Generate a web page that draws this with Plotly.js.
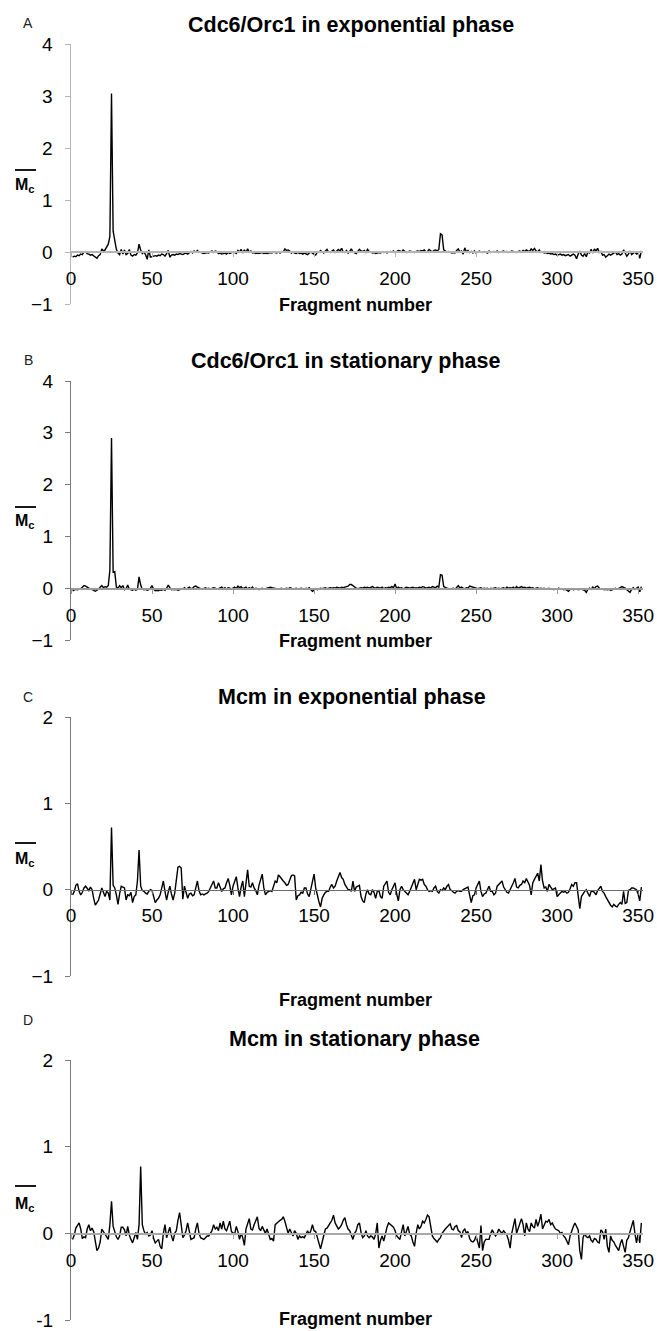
<!DOCTYPE html>
<html>
<head>
<meta charset="utf-8">
<script src="https://cdn.plot.ly/plotly-3.0.1.min.js"></script>
<style>html,body{margin:0;padding:0;background:#fff;}#chart{width:657px;height:1331px;}</style>
</head>
<body>
<div id="chart"></div>
<script>
// ---------- DATA ----------
const panelLetters = ["A", "B", "C", "D"];
const panelTitles = [
  "Cdc6/Orc1 in exponential phase",
  "Cdc6/Orc1 in stationary phase",
  "Mcm in exponential phase",
  "Mcm in stationary phase"
];
const xTitle = "Fragment number";
const yLabel = "M<sub>c</sub>";
const xTickVals = [0, 50, 100, 150, 200, 250, 300, 350];
const yTickValsCdc = [-1, 0, 1, 2, 3, 4];
const yTickTextCdc = ["\u22121", "0", "1", "2", "3", "4"];
const yTickValsMcm = [-1, 0, 1, 2];
const yTickTextMcmC = ["\u22121", "0", "1", "2"];
const yTickTextMcmD = ["-1", "0", "1", "2"];

const cdcExponential = [
-0.1,-0.08,-0.09,-0.06,-0.07,-0.04,-0.05,0.0,0.01,-0.03,
-0.04,-0.06,-0.05,-0.08,-0.1,-0.12,-0.07,-0.05,0.06,0.02,
0.04,0.1,0.15,0.3,3.05,0.4,0.18,0.05,-0.02,-0.05,
0.05,-0.04,0.04,-0.05,-0.03,0.05,-0.06,-0.08,-0.05,-0.06,
-0.02,0.15,0.04,-0.03,0.0,-0.05,-0.14,0.04,-0.1,-0.09,
-0.08,-0.07,-0.08,-0.06,-0.07,-0.04,-0.05,-0.08,-0.03,0.03,
-0.1,-0.06,-0.05,-0.06,-0.04,-0.05,-0.03,-0.04,-0.05,-0.03,
-0.02,-0.04,-0.01,0.01,-0.02,0.02,0.0,0.03,-0.01,0.0,
-0.02,-0.03,-0.02,-0.01,-0.02,0.0,0.02,-0.01,0.02,0.01,
-0.03,-0.02,-0.04,-0.03,-0.02,-0.04,-0.01,-0.03,-0.02,0.0,
-0.01,-0.03,0.03,0.0,0.05,-0.02,0.04,-0.01,0.06,0.0,
0.02,-0.02,-0.01,-0.03,-0.02,-0.03,-0.02,-0.01,-0.03,-0.02,
-0.03,-0.02,-0.01,-0.02,0.0,-0.01,-0.02,0.0,-0.02,0.01,
0.0,0.06,0.03,0.04,0.02,-0.02,0.0,-0.02,-0.03,-0.01,
-0.03,-0.02,-0.04,-0.02,-0.03,-0.05,-0.02,0.0,-0.02,-0.04,
-0.06,0.0,-0.01,0.03,0.0,-0.02,0.02,0.05,0.0,-0.01,
0.02,0.04,-0.01,0.03,0.05,0.02,0.07,0.0,-0.01,0.03,
-0.02,0.01,0.06,0.0,-0.02,-0.03,0.01,0.05,0.02,0.01,
0.03,-0.01,0.05,0.01,0.0,-0.02,-0.01,-0.03,-0.02,-0.01,
-0.02,0.0,-0.01,0.0,-0.02,-0.01,0.01,0.0,0.02,-0.01,
0.01,0.03,0.02,0.0,0.04,0.01,-0.01,0.0,0.02,0.01,
0.0,-0.01,0.01,0.02,0.01,0.03,0.02,0.04,0.0,0.01,
0.05,0.02,0.0,0.03,0.04,0.02,0.05,0.35,0.33,0.04,
0.02,0.0,0.01,-0.01,-0.02,-0.01,-0.02,0.03,0.06,0.0,
0.02,-0.04,0.08,0.0,0.03,-0.01,0.01,-0.02,0.02,-0.02,
0.0,0.02,0.0,-0.01,0.01,0.0,-0.02,0.02,-0.01,0.0,
0.01,0.0,0.02,-0.01,0.0,0.01,0.02,0.0,0.01,-0.01,
0.0,0.02,0.01,0.0,-0.01,0.01,0.02,0.0,0.03,0.01,
0.04,0.02,0.01,0.06,0.03,0.07,0.02,0.0,0.04,-0.01,
0.0,-0.02,-0.01,-0.03,-0.02,-0.04,-0.03,-0.05,-0.04,-0.06,
-0.05,-0.04,-0.06,-0.05,-0.07,-0.06,-0.05,-0.08,-0.06,-0.04,
-0.06,-0.13,-0.04,0.02,-0.06,-0.08,-0.03,-0.09,0.0,-0.02,
0.05,-0.02,0.06,0.02,0.07,-0.01,0.01,-0.06,-0.05,-0.1,
-0.07,-0.04,-0.06,-0.03,-0.02,0.0,-0.05,-0.03,-0.06,-0.04,
0.04,-0.02,-0.08,-0.04,0.02,-0.05,-0.02,0.0,-0.04,-0.02,
-0.12,0.02
];

const cdcStationary = [
-0.05,-0.04,-0.02,-0.03,-0.02,-0.01,0.02,0.05,0.04,0.01,
0.0,-0.01,-0.03,-0.05,-0.06,-0.04,-0.02,0.02,0.05,0.01,
0.03,0.02,0.05,0.35,2.9,0.3,0.32,0.02,0.0,0.05,
0.01,0.05,-0.03,-0.01,0.06,-0.02,-0.03,-0.04,-0.02,-0.04,
-0.02,0.22,0.06,-0.02,-0.03,-0.02,-0.04,-0.03,0.0,0.05,
-0.02,-0.05,-0.04,-0.05,-0.03,-0.04,-0.02,-0.04,0.0,0.06,
0.01,-0.03,-0.02,-0.03,-0.02,-0.04,-0.03,-0.01,-0.02,0.01,
-0.02,0.0,0.02,-0.01,0.0,0.03,0.04,0.02,0.0,-0.01,
-0.02,-0.01,0.01,-0.01,0.0,-0.02,-0.01,0.01,0.0,-0.02,
-0.01,0.0,0.02,-0.01,0.01,-0.02,0.01,0.0,-0.02,0.0,
0.02,-0.01,0.04,0.01,0.03,-0.01,0.0,0.02,-0.02,0.01,
-0.01,0.02,-0.02,0.0,-0.01,-0.03,-0.01,0.0,-0.02,-0.01,
0.0,0.01,0.02,0.01,0.0,-0.01,-0.01,-0.02,-0.01,0.0,
-0.02,-0.01,0.0,-0.01,0.01,0.0,-0.02,-0.01,0.0,-0.02,
-0.01,0.0,-0.01,-0.02,0.0,-0.01,0.01,-0.02,-0.06,-0.04,
-0.01,-0.03,-0.02,0.0,-0.01,0.0,0.01,-0.01,0.0,0.01,
0.0,0.01,0.0,0.02,0.01,0.0,0.02,0.01,0.02,0.03,
0.04,0.07,0.07,0.05,0.02,0.0,-0.01,0.0,0.01,0.0,
0.02,0.01,0.02,0.0,0.01,0.03,0.01,0.0,0.02,0.01,
0.0,0.02,-0.01,0.01,0.0,0.02,0.01,0.03,0.01,0.08,
-0.01,0.02,0.0,0.01,-0.01,0.0,0.02,0.01,0.0,0.01,
0.02,0.0,0.01,0.0,0.02,0.01,0.03,0.02,0.0,0.01,
0.02,0.0,0.03,0.02,0.01,0.04,0.02,0.26,0.25,0.03,
0.01,0.0,-0.01,-0.02,-0.01,0.0,-0.02,0.01,0.05,0.0,
0.02,0.0,-0.01,0.01,0.0,0.04,0.03,0.02,0.01,0.0,
-0.01,0.0,0.01,-0.01,0.0,-0.01,0.0,-0.02,0.0,-0.01,
0.0,0.01,-0.01,0.0,-0.01,0.0,0.01,-0.01,0.02,0.0,
0.01,0.0,0.02,-0.01,0.03,0.0,0.02,0.03,0.01,0.02,
0.0,0.01,0.02,0.0,0.01,-0.01,0.0,0.01,-0.01,0.0,
-0.01,0.0,-0.02,-0.01,0.0,-0.02,-0.01,-0.03,-0.01,-0.02,
0.0,-0.02,-0.01,-0.03,-0.02,-0.04,-0.06,-0.02,-0.01,-0.03,
-0.02,-0.01,-0.03,-0.02,-0.01,-0.03,-0.04,-0.08,-0.02,0.0,
-0.02,0.02,-0.01,0.03,0.04,0.0,-0.02,-0.01,-0.03,-0.02,
-0.03,-0.02,-0.04,-0.03,-0.02,0.0,-0.02,-0.01,0.01,0.03,
0.02,0.0,-0.03,-0.05,-0.08,-0.02,0.01,-0.02,0.0,0.02,
-0.07,0.03
];

const mcmExponential = [
-0.06,-0.02,0.05,0.07,-0.02,-0.06,-0.03,0.02,0.04,0.02,
-0.01,0.03,0.0,-0.1,-0.18,-0.15,-0.12,-0.05,0.02,-0.03,
-0.08,-0.02,-0.04,-0.12,0.72,0.05,0.02,-0.06,-0.17,-0.05,
0.04,0.03,0.02,-0.12,-0.06,-0.07,-0.03,-0.15,-0.08,-0.06,
0.1,0.46,0.04,-0.01,-0.02,-0.04,-0.05,-0.02,0.0,-0.01,
-0.1,-0.15,-0.12,-0.1,-0.06,0.02,0.1,-0.02,-0.12,-0.03,
0.04,-0.05,-0.12,-0.04,0.15,0.26,0.27,0.25,-0.11,0.04,
-0.03,-0.1,-0.05,-0.04,-0.07,-0.06,0.02,0.1,-0.01,-0.06,
-0.05,-0.06,-0.05,-0.04,-0.02,0.03,0.06,0.1,0.02,0.02,
0.08,0.03,-0.02,0.01,0.02,0.08,0.13,0.05,-0.06,0.04,
0.1,0.15,0.02,-0.08,0.03,0.1,-0.08,0.08,0.23,0.04,
0.03,0.08,0.02,-0.01,-0.06,0.05,0.12,0.18,0.02,-0.06,
-0.03,-0.02,-0.01,-0.02,0.05,0.1,0.08,0.17,0.15,0.12,
0.1,0.08,0.05,0.06,0.1,0.16,0.17,0.16,-0.12,-0.07,
-0.06,-0.03,-0.04,0.02,0.02,-0.05,-0.08,0.0,0.1,0.18,
0.02,-0.08,-0.14,-0.2,-0.1,-0.06,-0.03,-0.02,-0.02,0.03,
0.06,0.02,0.04,0.1,0.16,0.2,0.14,0.12,0.06,0.02,
0.0,0.0,-0.02,0.1,-0.02,0.03,0.04,0.05,-0.08,-0.13,
-0.15,-0.05,0.0,-0.05,-0.06,0.0,-0.03,-0.1,-0.02,-0.01,
-0.08,-0.1,0.04,0.08,0.1,-0.03,-0.06,0.0,0.04,0.08,
-0.05,-0.13,0.0,0.04,0.0,-0.02,-0.04,-0.06,-0.02,0.02,
0.08,0.12,0.0,0.06,0.12,0.11,0.12,0.06,0.04,0.0,
-0.02,-0.01,-0.02,0.02,0.04,-0.02,-0.04,0.0,-0.01,0.02,
0.0,0.04,0.06,0.0,-0.01,-0.03,-0.04,-0.02,-0.01,-0.02,
-0.02,0.0,0.01,0.02,0.03,-0.06,-0.15,-0.07,-0.06,0.02,
0.06,0.1,-0.02,-0.08,-0.05,-0.04,0.0,0.04,-0.02,-0.02,
-0.06,-0.04,0.04,0.06,0.08,0.1,0.03,0.0,-0.03,-0.04,
0.01,0.04,0.08,0.13,0.03,0.02,0.05,0.06,0.1,0.08,
0.13,0.08,0.05,-0.06,0.08,0.12,0.15,0.19,0.1,0.29,
0.1,0.02,0.03,-0.02,0.06,0.02,0.0,0.01,0.02,-0.08,
-0.06,-0.04,-0.02,-0.03,-0.02,-0.04,-0.03,0.01,0.06,0.04,
0.08,0.08,-0.1,-0.22,-0.08,-0.04,-0.02,0.0,-0.04,-0.08,
-0.02,-0.02,-0.03,-0.06,-0.01,0.02,0.04,-0.02,-0.04,-0.08,
-0.12,-0.15,-0.18,-0.2,-0.17,-0.19,-0.2,-0.17,-0.15,-0.17,
-0.02,-0.16,-0.15,-0.01,0.0,0.02,0.02,0.01,0.0,-0.05,
-0.13,0.03
];

const mcmStationary = [
-0.07,-0.02,0.06,0.1,0.12,0.05,-0.06,-0.04,-0.05,0.05,
0.1,0.03,0.06,0.02,-0.12,-0.2,-0.17,-0.1,0.05,0.02,
-0.01,-0.04,-0.07,0.1,0.37,0.08,0.02,-0.04,-0.07,-0.03,
0.07,0.07,0.04,-0.03,0.08,-0.02,-0.07,-0.11,-0.05,0.01,
-0.07,0.1,0.77,0.1,0.03,-0.01,0.01,-0.03,-0.02,0.03,
-0.06,-0.11,-0.09,-0.07,-0.15,-0.18,0.0,0.1,-0.05,0.0,
0.07,-0.03,-0.09,0.0,0.03,0.15,0.24,0.1,-0.05,-0.02,
0.03,0.12,0.0,-0.07,-0.06,-0.05,0.05,0.12,0.0,-0.05,
-0.06,-0.07,-0.05,-0.03,-0.03,0.0,0.03,0.1,0.05,0.07,
0.03,0.12,0.05,0.14,0.05,0.03,0.08,0.14,0.02,0.0,
-0.01,0.08,0.02,-0.07,0.0,-0.05,-0.14,0.05,0.12,0.17,
0.05,0.04,0.1,0.15,0.19,0.06,0.03,0.08,0.04,0.0,
0.05,-0.02,-0.07,-0.06,-0.09,0.1,0.12,0.14,0.15,0.16,
0.19,0.14,0.05,0.0,0.05,0.0,-0.03,0.03,0.0,-0.07,
-0.03,-0.05,-0.04,-0.05,0.0,0.03,-0.01,0.03,0.1,0.03,
0.02,-0.05,-0.1,-0.18,-0.1,-0.01,0.05,0.06,0.1,0.12,
0.15,0.21,0.12,0.08,0.05,0.07,0.1,0.15,0.18,0.1,
0.05,0.03,-0.03,-0.07,0.0,0.03,0.1,0.12,0.01,-0.05,
-0.03,0.03,-0.03,-0.05,-0.03,-0.04,-0.07,-0.01,0.12,-0.17,
-0.08,-0.03,-0.09,0.0,0.07,0.12,0.1,0.08,0.07,0.03,
-0.03,-0.05,-0.07,0.02,0.1,-0.03,0.03,0.08,-0.01,-0.03,
-0.1,-0.15,0.0,0.1,0.05,0.08,0.14,0.12,0.16,0.21,
0.19,0.1,-0.03,-0.06,-0.08,-0.1,-0.07,-0.05,0.0,0.03,
0.05,0.07,0.09,0.11,0.05,0.04,0.08,0.09,0.03,0.02,
-0.05,0.03,0.05,0.0,0.02,-0.06,-0.09,-0.1,-0.08,-0.03,
-0.1,-0.17,0.09,-0.2,-0.1,-0.07,-0.07,-0.07,0.0,0.04,
0.0,-0.03,0.0,0.05,0.02,0.0,0.03,0.0,-0.02,-0.08,
-0.17,0.0,0.1,0.17,0.0,0.05,0.12,0.17,0.1,-0.03,
0.12,0.05,0.02,0.12,0.08,0.06,0.16,0.08,0.14,0.22,
0.05,0.1,0.14,0.13,0.16,0.1,0.12,0.08,0.05,0.04,
0.03,0.0,0.01,-0.03,-0.05,-0.09,-0.13,-0.03,0.03,0.08,
0.12,0.08,0.04,-0.2,-0.3,-0.05,0.0,-0.04,-0.05,-0.03,
-0.08,-0.1,-0.06,-0.07,-0.1,-0.11,0.04,0.02,-0.07,0.05,
-0.15,-0.22,-0.03,-0.08,-0.1,-0.14,-0.18,-0.2,-0.12,-0.07,
-0.15,-0.22,-0.08,-0.05,0.02,0.08,0.15,0.0,-0.11,0.0,
-0.11,0.12
];

const fragments = cdcExponential.map((_, i) => i + 1);

// ---------- LAYOUT ----------
const W = 657, H = 1331;
const FONT = "Liberation Sans, Arial, Helvetica, sans-serif";
const px2y = p => 1 - p / H;
const xDomain = [71 / W, 643 / W];
const xRange = [0, 353];

const panels = [
  {series: cdcExponential, yr: [-1, 4], yTop: 44, yBot: 304, tv: yTickValsCdc, tt: yTickTextCdc,
   yLine: "#b4b4b4", yLineW: 1.5, xLine: "#b4b4b4", xLineW: 2,
   letterY: 23, titleX: 351, titleY: 25, xtY: 305, mY: 185, olY: 170},
  {series: cdcStationary, yr: [-1, 4], yTop: 381, yBot: 640, tv: yTickValsCdc, tt: yTickTextCdc,
   yLine: "#7a7a7a", yLineW: 1, xLine: "#9a9a9a", xLineW: 1.5,
   letterY: 360, titleX: 346, titleY: 361, xtY: 641, mY: 522, olY: 507},
  {series: mcmExponential, yr: [-1, 2], yTop: 717, yBot: 976, tv: yTickValsMcm, tt: yTickTextMcmC,
   yLine: "#7a7a7a", yLineW: 1, xLine: "#6a6a6a", xLineW: 1,
   letterY: 697, titleX: 352, titleY: 697, xtY: 1000, mY: 860, olY: 843},
  {series: mcmStationary, yr: [-1, 2], yTop: 1060, yBot: 1320, tv: yTickValsMcm, tt: yTickTextMcmD,
   yLine: "#7a7a7a", yLineW: 1, xLine: "#a8a8a8", xLineW: 1.5,
   letterY: 1020, titleX: 354, titleY: 1039, xtY: 1319, mY: 1204, olY: 1186}
];

const traces = [];
const layout = {
  width: W, height: H,
  margin: {l: 0, r: 0, t: 0, b: 0},
  paper_bgcolor: "#ffffff", plot_bgcolor: "rgba(0,0,0,0)",
  showlegend: false,
  font: {family: FONT, color: "#000"},
  annotations: [], shapes: []
};

panels.forEach((p, i) => {
  const n = i === 0 ? "" : String(i + 1);
  const dom = [px2y(p.yBot), px2y(p.yTop)];
  const zeroPos = dom[0] + (dom[1] - dom[0]) * (0 - p.yr[0]) / (p.yr[1] - p.yr[0]);
  traces.push({
    type: "scatter", mode: "lines",
    x: fragments, y: p.series,
    xaxis: "x" + n, yaxis: "y" + n,
    line: {color: "#000", width: 1.4},
    hoverinfo: "skip"
  });
  layout["xaxis" + n] = {
    domain: xDomain, range: xRange, anchor: "free", position: zeroPos,
    tickmode: "array", tickvals: xTickVals,
    ticks: "outside", ticklen: 4, tickwidth: 1, tickcolor: p.xLine,
    showline: true, linecolor: p.xLine, linewidth: p.xLineW,
    showgrid: false, zeroline: false,
    tickfont: {family: FONT, size: 19, color: "#000"},
    ticklabelstandoff: 5, fixedrange: true
  };
  layout["yaxis" + n] = {
    domain: dom, range: p.yr, anchor: "x" + n,
    tickmode: "array", tickvals: p.tv, ticktext: p.tt,
    ticks: "outside", ticklen: 5, tickwidth: 1, tickcolor: p.yLine,
    showline: true, linecolor: p.yLine, linewidth: p.yLineW,
    showgrid: false, zeroline: false,
    tickfont: {family: FONT, size: 19, color: "#000"},
    ticklabelstandoff: 8, fixedrange: true
  };
  const ann = (x, y, text, size, color) => ({
    xref: "paper", yref: "paper", x: x / W, y: px2y(y), text: text,
    showarrow: false, xanchor: "center", yanchor: "middle",
    font: {family: FONT, size: size, color: color || "#000"}
  });
  layout.annotations.push(ann(28, p.letterY, panelLetters[i], 14, "#222"));
  layout.annotations.push(ann(p.titleX, p.titleY, "<b>" + panelTitles[i] + "</b>", 21.5));
  layout.annotations.push(ann(355, p.xtY, "<b>" + xTitle + "</b>", 18));
  layout.annotations.push(ann(25, p.mY, "<b>" + yLabel + "</b>", 16));
  layout.shapes.push({
    type: "line", xref: "paper", yref: "paper",
    x0: 15 / W, x1: 36 / W, y0: px2y(p.olY), y1: px2y(p.olY),
    line: {color: "#000", width: 1.8}
  });
});

Plotly.newPlot("chart", traces, layout, {displayModeBar: false, staticPlot: true});
</script>
</body>
</html>
